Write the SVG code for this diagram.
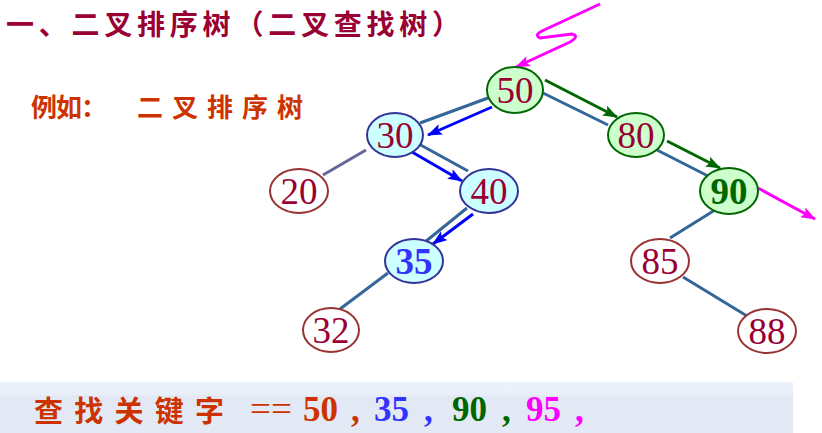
<svg xmlns="http://www.w3.org/2000/svg" width="822" height="433" viewBox="0 0 822 433">
<style>
.cjk{font-family:"Noto Sans CJK SC","Noto Sans CJK JP",sans-serif;font-weight:bold}
.num{font-family:"Liberation Serif","Times New Roman",serif;font-size:37px;text-anchor:middle;fill:#990033}
.edge{stroke:#336699;stroke-width:3;fill:none}
.g{fill:#ccffcc;stroke:#006600;stroke-width:2}
.c{fill:#ccffff;stroke:#333399;stroke-width:2}
.w{fill:#ffffff;stroke:#993333;stroke-width:2}
.bn{font-family:"Liberation Serif","Times New Roman",serif;font-size:35px;font-weight:bold}
</style>
<defs>
<marker id="ab" markerWidth="15" markerHeight="11" refX="14" refY="5.5" orient="auto" markerUnits="userSpaceOnUse"><path d="M0,0 L15,5.5 L0,11 L3,5.5 Z" fill="#0000ff"/></marker>
<marker id="ag" markerWidth="15" markerHeight="11" refX="14" refY="5.5" orient="auto" markerUnits="userSpaceOnUse"><path d="M0,0 L15,5.5 L0,11 L3,5.5 Z" fill="#006600"/></marker>
<marker id="am" markerWidth="15" markerHeight="11" refX="14" refY="5.5" orient="auto" markerUnits="userSpaceOnUse"><path d="M0,0 L15,5.5 L0,11 L3,5.5 Z" fill="#ff00ff"/></marker>
<linearGradient id="band" x1="0" y1="0" x2="0" y2="1"><stop offset="0" stop-color="#ecf2fb"/><stop offset="0.25" stop-color="#e8eff9"/><stop offset="0.27" stop-color="#e2e9f4"/><stop offset="1" stop-color="#e3eaf5"/></linearGradient>
</defs>
<rect width="822" height="433" fill="#ffffff"/>
<rect x="0" y="382" width="793" height="51" fill="url(#band)"/>

<text class="cjk" x="6" y="35" font-size="28" fill="#990033" textLength="454" lengthAdjust="spacing">一、二叉排序树（二叉查找树）</text>
<text class="cjk" x="31" y="117" font-size="26" fill="#cc3300" textLength="76" lengthAdjust="spacing">例如：</text>
<text class="cjk" x="137" y="117" font-size="26" fill="#cc3300" textLength="166" lengthAdjust="spacing">二叉排序树</text>

<g id="connectors">
<line class="edge" x1="488" y1="98" x2="420" y2="123"/>
<line class="edge" x1="366" y1="150" x2="323" y2="175" style="stroke:#666699"/>
<line class="edge" x1="417" y1="143" x2="468" y2="171"/>
<line class="edge" x1="467" y1="208" x2="425" y2="242"/>
<line class="edge" x1="388" y1="273" x2="340" y2="309"/>
<line class="edge" x1="543" y1="93" x2="608" y2="125"/>
<line class="edge" x1="657" y1="150" x2="708" y2="176"/>
<line class="edge" x1="715" y1="210" x2="670" y2="238"/>
<line class="edge" x1="683" y1="277" x2="747" y2="316"/>
<line x1="492" y1="107" x2="428" y2="135" stroke="#0000ff" stroke-width="3" marker-end="url(#ab)"/>
<line x1="412" y1="152" x2="462" y2="181" stroke="#0000ff" stroke-width="3" marker-end="url(#ab)"/>
<line x1="473" y1="214" x2="433" y2="244" stroke="#0000ff" stroke-width="3" marker-end="url(#ab)"/>
<line x1="545" y1="80" x2="617" y2="117" stroke="#006600" stroke-width="3" marker-end="url(#ag)"/>
<line x1="667" y1="141" x2="720" y2="168" stroke="#006600" stroke-width="3" marker-end="url(#ag)"/>
<line x1="758" y1="188" x2="815" y2="219" stroke="#ff00ff" stroke-width="3" marker-end="url(#am)"/>
<path d="M600,4 L542,31 Q534,35 540,38 L572,34 Q580,36 570,42 L516,67" fill="none" stroke="#ff00ff" stroke-width="3" marker-end="url(#am)"/>
</g>

<g id="n50"><ellipse class="g" cx="515" cy="90" rx="28" ry="23"/><text class="num" x="515" y="103">50</text></g>
<g id="n30"><ellipse class="c" cx="395" cy="135" rx="28" ry="22"/><text class="num" x="395" y="148">30</text></g>
<g id="n80"><ellipse class="g" cx="636" cy="135" rx="28" ry="22"/><text class="num" x="636" y="148">80</text></g>
<g id="n20"><ellipse class="w" cx="299" cy="191" rx="29" ry="22"/><text class="num" x="299" y="204">20</text></g>
<g id="n40"><ellipse class="c" cx="489" cy="191" rx="29" ry="22"/><text class="num" x="489" y="204">40</text></g>
<g id="n90"><ellipse class="g" cx="729" cy="191" rx="29" ry="23"/><text class="num" x="729" y="204" style="fill:#006600;font-weight:bold">90</text></g>
<g id="n35"><ellipse class="c" cx="414" cy="261" rx="29" ry="22"/><text class="num" x="414" y="274" style="fill:#3333ff;font-weight:bold">35</text></g>
<g id="n85"><ellipse class="w" cx="660" cy="261" rx="29" ry="22"/><text class="num" x="660" y="274">85</text></g>
<g id="n32"><ellipse class="w" cx="331" cy="330" rx="28" ry="22"/><text class="num" x="331" y="343">32</text></g>
<g id="n88"><ellipse class="w" cx="767" cy="331" rx="29" ry="22"/><text class="num" x="767" y="344">88</text></g>

<text class="cjk" x="34" y="422" font-size="29" fill="#cc3300" textLength="190" lengthAdjust="spacing">查找关键字</text>
<text x="250" y="421" fill="#cc3300" font-family="Liberation Serif, serif" font-size="35" textLength="42" lengthAdjust="spacingAndGlyphs">==</text>
<text class="bn" x="303" y="421" fill="#cc3300">50</text>
<text class="bn" x="351" y="421" fill="#cc3300">,</text>
<text class="bn" x="374" y="421" fill="#3333ff">35</text>
<text class="bn" x="424" y="421" fill="#3333ff">,</text>
<text class="bn" x="452" y="421" fill="#006600">90</text>
<text class="bn" x="502" y="421" fill="#006600">,</text>
<text class="bn" x="526" y="421" fill="#ff00ff">95</text>
<text class="bn" x="575" y="421" fill="#ff00ff">,</text>
</svg>
